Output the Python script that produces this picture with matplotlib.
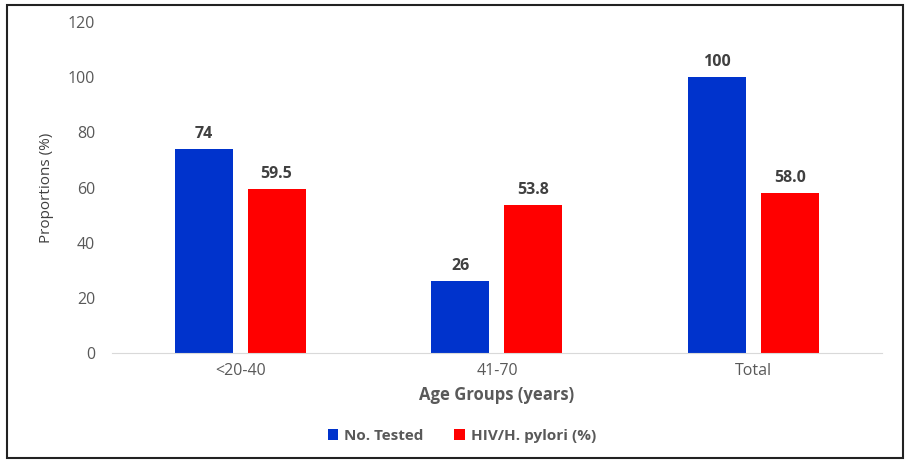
import numpy as np
import matplotlib.pyplot as plt
from matplotlib.patches import Rectangle

plt.rcParams['font.family'] = ['Open Sans', 'DejaVu Sans']

groups = ['<20-40', '41-70', 'Total']
no_tested = [74, 26, 100]
hiv_hp = [59.5, 53.8, 58.0]
series_names = ['No. Tested', 'HIV/H. pylori (%)']

fig = plt.figure(figsize=(9.05, 4.61), dpi=100)
ax = fig.add_axes([112/905, 1-353/461, 770/905, 331/461])

x = np.arange(len(groups))
w = 0.226
b1 = ax.bar(x - 0.143, no_tested, w, color='#0033cc', label=series_names[0])
b2 = ax.bar(x + 0.141, hiv_hp, w, color='#ff0000', label=series_names[1])

for bars, vals, fmt in [(b1, no_tested, '{:.0f}'), (b2, hiv_hp, '{:.1f}')]:
    for r, v in zip(bars, vals):
        ax.annotate(fmt.format(v), (r.get_x() + r.get_width()/2, v),
                    xytext=(0, 5), textcoords='offset points', ha='center', va='bottom',
                    fontsize=11.5, fontweight='bold', color='#404040')

ax.set_xlim(-0.5, 2.5)
ax.set_ylim(0, 120)
ax.set_yticks(range(0, 121, 20))
ax.set_xticks(x)
ax.set_xticklabels(groups)
for s in ['top', 'right', 'left']:
    ax.spines[s].set_visible(False)
ax.spines['bottom'].set_color('#d9d9d9')
ax.tick_params(length=0, colors='#595959', labelsize=11.5)
ax.tick_params(axis='y', pad=12)
ax.tick_params(axis='x', pad=7)

ax.set_xlabel('Age Groups (years)', fontsize=12, fontweight='bold', color='#595959', labelpad=5)
ax.set_ylabel('Proportions (%)', fontsize=11, color='#404040', labelpad=10)

ax.legend(loc='center', bbox_to_anchor=(462/905, 1-436/461), bbox_transform=fig.transFigure,
          ncol=2, frameon=False, handlelength=0.7, handleheight=0.7,
          columnspacing=2.0, handletextpad=0.4, prop={'weight': 'bold', 'size': 11})
for t in ax.get_legend().get_texts():
    t.set_color('#595959')

fig.patches.append(Rectangle((7/905, 1-458/461), 896/905, 453/461, transform=fig.transFigure,
                             fill=False, edgecolor='#222222', linewidth=1.5))

fig.savefig('out.png', dpi=100)
